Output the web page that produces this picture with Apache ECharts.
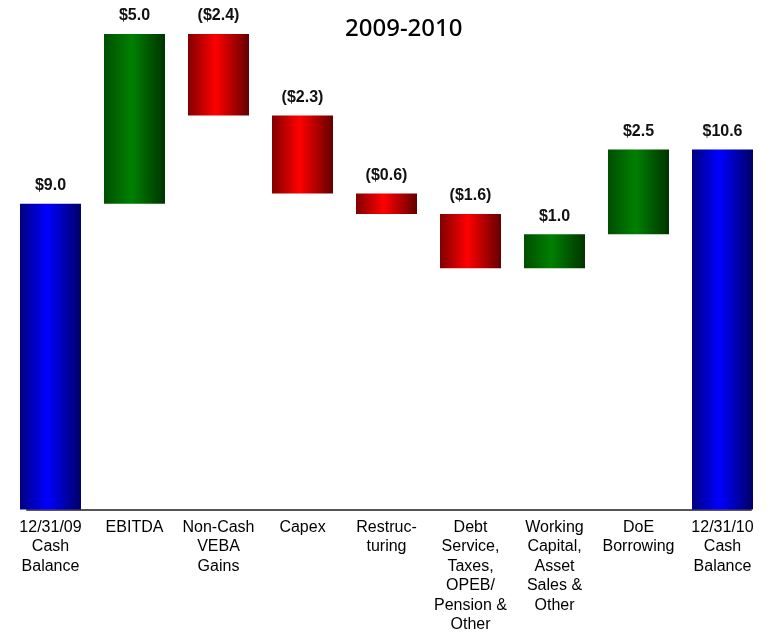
<!DOCTYPE html>
<html>
<head>
<meta charset="utf-8">
<script src="https://cdn.jsdelivr.net/npm/echarts@6/dist/echarts.min.js"></script>
<style>
  html, body { margin: 0; padding: 0; background: #fff; }
  #chart { width: 767px; height: 634px; }
</style>
</head>
<body>
<div id="chart"></div>
<script>
// Cash bridge, $ billions
const categories = [
  '12/31/09\nCash\nBalance',
  'EBITDA',
  'Non-Cash\nVEBA\nGains',
  'Capex',
  'Restruc-\nturing',
  'Debt\nService,\nTaxes,\nOPEB/\nPension &\nOther',
  'Working\nCapital,\nAsset\nSales &\nOther',
  'DoE\nBorrowing',
  '12/31/10\nCash\nBalance'
];
// 'total' bars start at zero, 'delta' bars float on the running balance
const kinds  = ['total', 'delta', 'delta', 'delta', 'delta', 'delta', 'delta', 'delta', 'total'];
const values = [9.0, 5.0, -2.4, -2.3, -0.6, -1.6, 1.0, 2.5, 10.6];

const palettes = {
  total: ['#000082', '#0000ff', '#000064'],
  up:    ['#004e00', '#008000', '#003400'],
  down:  ['#820000', '#ff0000', '#640000']
};

function shade(p) {
  return new echarts.graphic.LinearGradient(0, 0, 1, 0, [
    { offset: 0, color: p[0] },
    { offset: 0.45, color: p[1] },
    { offset: 1, color: p[2] }
  ]);
}

function fmt(v) {
  const s = '$' + Math.abs(v).toFixed(1);
  return v < 0 ? '(' + s + ')' : s;
}

// running balance -> invisible base + visible step
const baseData = [];
const stepData = [];
let running = 0;
values.forEach((v, i) => {
  if (kinds[i] === 'total') {
    baseData.push(0);
    stepData.push({ value: v, itemStyle: { color: shade(palettes.total) } });
    running = v;
  } else {
    const lo = v < 0 ? running + v : running;
    baseData.push(+lo.toFixed(4));
    stepData.push({ value: Math.abs(v), itemStyle: { color: shade(v < 0 ? palettes.down : palettes.up) } });
    running += v;
  }
});

const chart = echarts.init(document.getElementById('chart'), null, { renderer: 'canvas' });
chart.setOption({
  animation: false,
  title: {
    text: '2009-2010',
    left: 340,
    top: 12,
    textStyle: {
      fontFamily: "'Noto Sans', sans-serif",
      fontWeight: 500,
      fontSize: 24,
      color: '#000'
    }
  },
  grid: [
    { left: 8.5, right: 2.5, top: 0, bottom: 124.5, outerBoundsMode: 'none' },
    { left: 27, right: 16, top: 0, bottom: 124.5, outerBoundsMode: 'none' }
  ],
  xAxis: [
    {
      type: 'category',
      gridIndex: 0,
      data: categories,
      axisLine: { show: false },
      axisTick: { show: false },
      axisLabel: {
        interval: 0,
        margin: 8,
        fontFamily: "'Liberation Sans', Arial, sans-serif",
        fontSize: 16,
        lineHeight: 19.5,
        color: '#000',
        verticalAlign: 'top'
      }
    },
    {
      type: 'value',
      gridIndex: 1,
      min: 0,
      max: 1,
      axisLine: { show: true, lineStyle: { color: '#555', width: 2 } },
      axisTick: { show: false },
      axisLabel: { show: false },
      splitLine: { show: false },
      z: 0
    }
  ],
  yAxis: [
    { type: 'value', gridIndex: 0, min: 0, max: 15, show: false },
    { type: 'value', gridIndex: 1, min: 0, max: 1, show: false }
  ],
  series: [
    {
      type: 'bar',
      xAxisIndex: 0,
      yAxisIndex: 0,
      stack: 'bridge',
      barWidth: 61,
      itemStyle: { color: 'transparent' },
      emphasis: { disabled: true },
      data: baseData,
      z: 3
    },
    {
      type: 'bar',
      xAxisIndex: 0,
      yAxisIndex: 0,
      stack: 'bridge',
      barWidth: 61,
      data: stepData,
      z: 3,
      label: {
        show: true,
        position: 'top',
        distance: 10,
        fontFamily: "'Liberation Sans', Arial, sans-serif",
        fontWeight: 'bold',
        fontSize: 16,
        color: '#111',
        formatter: p => fmt(values[p.dataIndex])
      }
    }
  ]
});
</script>
</body>
</html>
